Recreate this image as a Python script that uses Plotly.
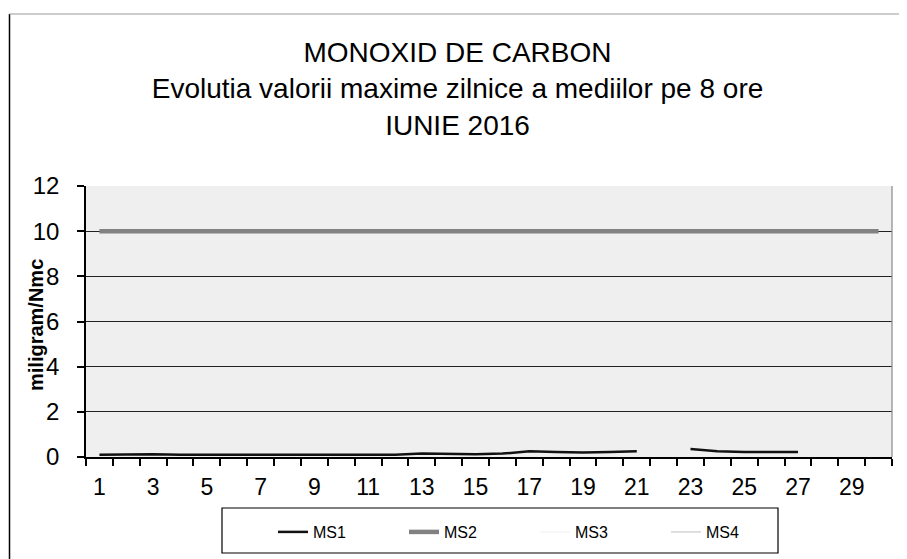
import plotly.graph_objects as go

days = list(range(1, 31))
tick_days = [d for d in days if d % 2 == 1]
tick_text = [str(d) for d in tick_days]

ms1 = [0.10, 0.12, 0.12, 0.10, 0.10, 0.08, 0.08, 0.08, 0.08, 0.08,
       0.10, 0.10, 0.15, 0.12, 0.12, 0.15, 0.25, 0.22, 0.20, 0.22,
       0.25, None, 0.35, 0.25, 0.22, 0.22, 0.22, None, None, None]
ms2 = [10.0] * 30
ms3 = [None] * 30
ms4 = [None] * 30

y_ticks = [0, 2, 4, 6, 8, 10, 12]

FONT = "Liberation Sans, Arial, sans-serif"

# page body has an 8px margin, so the figure is sized to fit the 907x559 window
W, H = 899, 551
L, T, PW, PH = 78, 178, 806, 271

def px(X):  # page x -> paper x
    return (X - 8 - L) / PW

def py(Y):  # page y -> paper y
    return (T + PH - (Y - 8)) / PH

fig = go.Figure()
fig.add_trace(go.Scatter(x=days, y=ms1, name="MS1", mode="lines",
                         line=dict(color="#111111", width=2.5), connectgaps=False))
fig.add_trace(go.Scatter(x=days, y=ms2, name="MS2", mode="lines",
                         line=dict(color="#828282", width=4.5)))
fig.add_trace(go.Scatter(x=days, y=ms3, name="MS3", mode="lines",
                         line=dict(color="#f4f4f4", width=1.5)))
fig.add_trace(go.Scatter(x=days, y=ms4, name="MS4", mode="lines",
                         line=dict(color="#d4d4d4", width=1.5)))

fig.update_layout(
    width=W, height=H,
    margin=dict(l=L, r=W - L - PW, t=T, b=H - T - PH, autoexpand=False),
    paper_bgcolor="white",
    plot_bgcolor="#efefef",
    font=dict(family=FONT, color="black"),
    title=dict(
        text="MONOXID DE CARBON<br>Evolutia valorii maxime zilnice a mediilor pe 8 ore<br>IUNIE 2016",
        x=0.5, xanchor="center", xref="container",
        y=0.902, yanchor="top",
        font=dict(family=FONT, size=28, color="black"),
    ),
    showlegend=True,
    legend=dict(
        orientation="h", x=px(273), xanchor="left", y=py(532), yanchor="middle",
        bgcolor="rgba(0,0,0,0)", borderwidth=0,
        font=dict(family=FONT, size=16, color="black"),
        entrywidth=86, entrywidthmode="pixels",
    ),
)

fig.update_xaxes(
    range=[0.5, 30.5], automargin=False,
    tickmode="array", tickvals=tick_days, ticktext=tick_text, tickangle=0,
    ticks="", ticklen=7,
    minor=dict(tick0=0.5, dtick=1, ticks="outside", ticklen=7, tickwidth=1.5,
               tickcolor="black", showgrid=False),
    showline=True, linecolor="black", linewidth=1.5,
    showgrid=False, zeroline=False,
    ticklabelstandoff=9,
    tickfont=dict(family=FONT, size=23, color="black"),
)
fig.update_yaxes(
    range=[0, 12], tickmode="array", tickvals=y_ticks, automargin=False,
    ticks="outside", ticklen=7, tickwidth=1.5, tickcolor="black",
    showline=True, linecolor="black", linewidth=1.5,
    showgrid=True, gridcolor="#222222", gridwidth=1.3,
    zeroline=False,
    ticklabelstandoff=13,
    tickfont=dict(family=FONT, size=24, color="black"),
)

# y-axis title placed beside the single-digit labels, as in the original
fig.add_annotation(text="<b>miligram/Nmc</b>", textangle=-90, showarrow=False,
                   xref="paper", yref="paper", x=px(36), y=py(325),
                   xanchor="center", yanchor="middle",
                   font=dict(family=FONT, size=20, color="black"))

# right border of plot area
fig.add_shape(type="line", xref="paper", yref="paper", x0=1, x1=1, y0=0, y1=1,
              line=dict(color="#888888", width=1.2))
# legend frame
fig.add_shape(type="rect", xref="paper", yref="paper",
              x0=px(222), x1=px(778), y0=py(553), y1=py(508),
              line=dict(color="black", width=1.2), fillcolor="rgba(0,0,0,0)")
# outer chart frame (left and top edges)
fig.add_shape(type="line", xref="paper", yref="paper",
              x0=px(9.5), x1=px(9.5), y0=py(570), y1=py(14),
              line=dict(color="black", width=1.5))
fig.add_shape(type="line", xref="paper", yref="paper",
              x0=px(9.5), x1=px(915), y0=py(14), y1=py(14),
              line=dict(color="#999999", width=1.2))

fig.write_html("out.html")
